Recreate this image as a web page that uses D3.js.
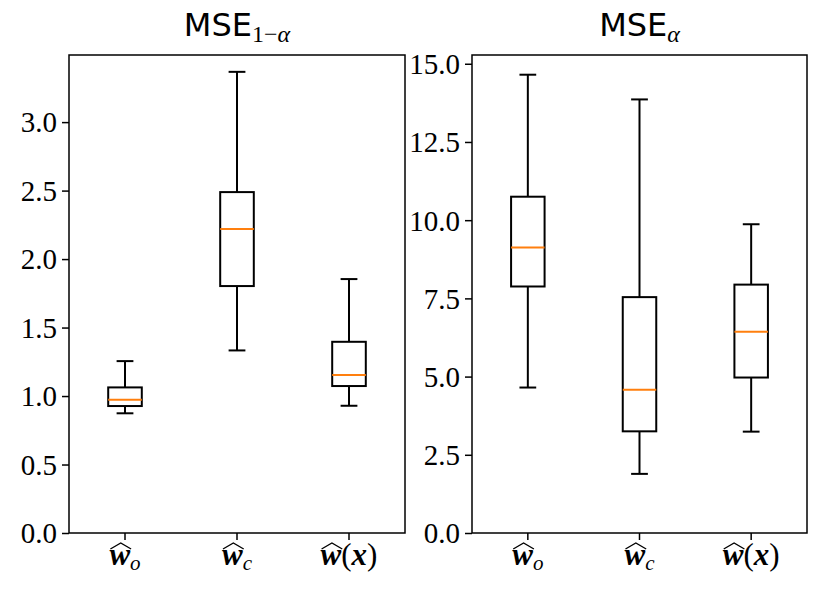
<!DOCTYPE html>
<html>
<head>
<meta charset="utf-8">
<script src="https://cdn.jsdelivr.net/npm/d3@7"></script>
<style>
  body { margin: 0; background: #fff; }
  svg text { fill: #000; }
</style>
</head>
<body>
<div id="chart"></div>
<script>
// estimator names on the x axis (sub = subscript, arg = argument in parens)
const estimators = [
  { sub: "o", arg: null },
  { sub: "c", arg: null },
  { sub: null, arg: "x" }
];

// MSE_{1-alpha} box stats : whisker low, q1, median, q3, whisker high
const leftLow  = [0.874, 1.333, 0.929];
const leftQ1   = [0.927, 1.803, 1.073];
const leftMed  = [0.973, 2.219, 1.153];
const leftQ3   = [1.063, 2.489, 1.396];
const leftHigh = [1.255, 3.367, 1.854];
const leftTicks = [0.0, 0.5, 1.0, 1.5, 2.0, 2.5, 3.0];

// MSE_alpha box stats
const rightLow  = [4.65, 1.89, 3.24];
const rightQ1   = [7.88, 3.25, 4.97];
const rightMed  = [9.13, 4.58, 6.43];
const rightQ3   = [10.75, 7.54, 7.94];
const rightHigh = [14.65, 13.86, 9.87];
const rightTicks = [0.0, 2.5, 5.0, 7.5, 10.0, 12.5, 15.0];

const W = 831, H = 596;
const svg = d3.select("#chart").append("svg")
  .attr("width", W).attr("height", H);

function stats(lo, q1, med, q3, hi) {
  return lo.map((d, i) => ({ i: i, lo: lo[i], q1: q1[i], med: med[i], q3: q3[i], hi: hi[i] }));
}

// draws one panel
function panel(opts) {
  const g = svg.append("g");
  const x = d3.scaleLinear().domain([0.5, 3.5]).range([opts.x0, opts.x1]);
  const y = d3.scaleLinear().domain(opts.ydom).range([opts.y1, opts.y0]);
  const boxW = x(1.15) - x(0.85);
  const capW = boxW / 2;
  const data = opts.data;

  // y axis
  const yAxis = g.append("g")
    .attr("transform", "translate(" + opts.x0 + ",0)")
    .call(d3.axisLeft(y).tickValues(opts.ticks).tickFormat(d3.format(".1f")).tickSize(7).tickPadding(5));
  yAxis.select(".domain").remove();
  yAxis.selectAll(".tick line").attr("stroke", "#000").attr("stroke-width", 1.5);
  yAxis.selectAll(".tick text")
    .style("font-family", "'Liberation Serif', 'DejaVu Serif', serif")
    .style("font-size", "29px")
    .attr("dy", "0.34em");

  // x ticks
  g.selectAll(".xt").data(data).enter().append("line")
    .attr("x1", d => x(d.i + 1)).attr("x2", d => x(d.i + 1))
    .attr("y1", opts.y1).attr("y2", opts.y1 + 7)
    .attr("stroke", "#000").attr("stroke-width", 1.5);

  // whiskers
  const bx = g.selectAll(".box").data(data).enter().append("g");
  bx.append("line")
    .attr("x1", d => x(d.i + 1)).attr("x2", d => x(d.i + 1))
    .attr("y1", d => y(d.q3)).attr("y2", d => y(d.hi))
    .attr("stroke", "#000").attr("stroke-width", 2);
  bx.append("line")
    .attr("x1", d => x(d.i + 1)).attr("x2", d => x(d.i + 1))
    .attr("y1", d => y(d.q1)).attr("y2", d => y(d.lo))
    .attr("stroke", "#000").attr("stroke-width", 2);
  // caps
  ["hi", "lo"].forEach(k => {
    bx.append("line")
      .attr("x1", d => x(d.i + 1) - capW / 2).attr("x2", d => x(d.i + 1) + capW / 2)
      .attr("y1", d => y(d[k])).attr("y2", d => y(d[k]))
      .attr("stroke", "#000").attr("stroke-width", 2);
  });
  // boxes
  bx.append("rect")
    .attr("x", d => x(d.i + 1) - boxW / 2)
    .attr("width", boxW)
    .attr("y", d => y(d.q3))
    .attr("height", d => y(d.q1) - y(d.q3))
    .attr("fill", "none").attr("stroke", "#000").attr("stroke-width", 2);
  // medians
  bx.append("line")
    .attr("x1", d => x(d.i + 1) - boxW / 2).attr("x2", d => x(d.i + 1) + boxW / 2)
    .attr("y1", d => y(d.med)).attr("y2", d => y(d.med))
    .attr("stroke", "#ff7f0e").attr("stroke-width", 2);

  // frame
  g.append("rect")
    .attr("x", opts.x0).attr("y", opts.y0)
    .attr("width", opts.x1 - opts.x0).attr("height", opts.y1 - opts.y0)
    .attr("fill", "none").attr("stroke", "#000").attr("stroke-width", 1.5);

  // x tick labels
  estimators.forEach((e, i) => {
    const t = g.append("text")
      .attr("x", x(i + 1)).attr("y", opts.y1 + 32)
      .attr("text-anchor", "middle")
      .style("font-family", "'Liberation Serif', 'DejaVu Serif', serif");
    const w = t.append("tspan").attr("class", "w")
      .style("font-weight", "bold").style("font-style", "italic").style("font-size", "31px")
      .text("w");
    if (e.sub) {
      t.append("tspan").attr("dy", 5).style("font-style", "italic").style("font-size", "21px").text(e.sub);
    } else {
      t.append("tspan").style("font-size", "31px").text("(");
      t.append("tspan").style("font-weight", "bold").style("font-style", "italic").style("font-size", "31px").text(e.arg);
      t.append("tspan").style("font-size", "31px").text(")");
    }
    // wide hat above the w
    const tb = t.node().getBBox();
    let wx0 = tb.x, wlen = w.node().getComputedTextLength();
    const hx0 = wx0 + 1, hx1 = wx0 + wlen + 1, hy = opts.y1 + 10;
    g.append("path")
      .attr("d", "M" + hx0 + "," + (hy + 6) + " L" + ((hx0 + hx1) / 2) + "," + hy + " L" + hx1 + "," + (hy + 6))
      .attr("fill", "none").attr("stroke", "#000").attr("stroke-width", 1.4);
  });

  // title
  const tt = g.append("text")
    .attr("x", (opts.x0 + opts.x1) / 2).attr("y", opts.y0 - 19)
    .attr("text-anchor", "middle");
  tt.append("tspan").style("font-family", "'DejaVu Sans', sans-serif").style("font-size", "32px").text("MSE");
  tt.append("tspan").attr("dy", 6)
    .style("font-family", "'Liberation Serif', 'DejaVu Serif', serif")
    .style("font-size", "24px")
    .html(opts.sub);
}

panel({
  x0: 69, x1: 405, y0: 55, y1: 533,
  ydom: [0, 3.49], ticks: leftTicks,
  data: stats(leftLow, leftQ1, leftMed, leftQ3, leftHigh),
  sub: "1&#8722;<tspan style='font-style:italic'>&#945;</tspan>"
});

panel({
  x0: 472, x1: 807, y0: 55, y1: 533,
  ydom: [0, 15.28], ticks: rightTicks,
  data: stats(rightLow, rightQ1, rightMed, rightQ3, rightHigh),
  sub: "<tspan style='font-style:italic'>&#945;</tspan>"
});
</script>
</body>
</html>
